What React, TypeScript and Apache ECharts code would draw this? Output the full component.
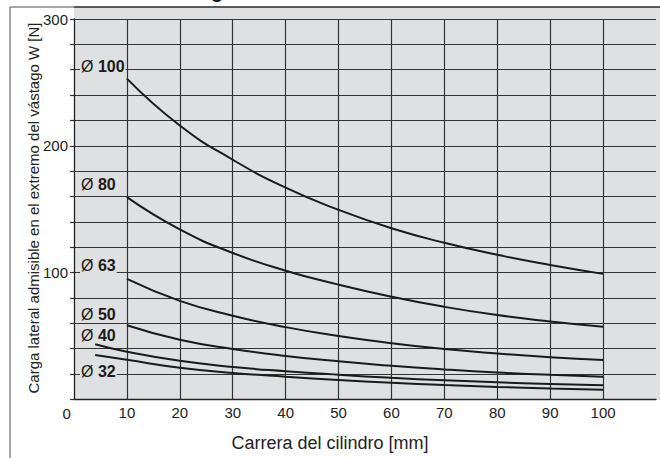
import React, { useEffect, useRef } from "react";
import * as echarts from "echarts";

// Stroke positions (mm)
const strokeX = [10, 20, 30, 40, 50, 60, 70, 80, 90, 100];
const strokeXLong = [4, 10, 20, 30, 40, 50, 60, 70, 80, 90, 100];

// Allowable lateral load W [N] for each bore
const bore100 = [253, 216, 189, 167, 149.5, 135, 123.5, 114, 106, 99];
const bore80 = [159.5, 134, 115.5, 101.5, 90.5, 81, 73, 66.5, 61.5, 57.3];
const bore63 = [95, 77.7, 66, 57, 50, 44.3, 39.7, 36.2, 33.3, 31];
const bore50 = [58.5, 47, 39.8, 34.3, 30, 26.5, 23.6, 21.2, 19.4, 17.9];
const bore40 = [43.5, 37.6, 30.4, 25.6, 22.2, 19.4, 17, 15.1, 13.5, 12.2, 11.2];
const bore32 = [35, 31.2, 25, 20.9, 17.9, 15.3, 13.1, 11.3, 9.8, 8.6, 7.6];

const boreNames = ["100", "80", "63", "50", "40", "32"];
const yTickLabels = [100, 200, 300];

const xTitle = "Carrera del cilindro [mm]";
const yTitle = "Carga lateral admisible en el extremo del vástago W [N]";

const FONT = "'Liberation Sans', Arial, Helvetica, sans-serif";
const BG = "#dfe0e2";
const GRIDC = "#333333";

export default function App() {
  const ref = useRef<HTMLDivElement>(null);

  useEffect(() => {
    if (!ref.current) return;
    const chart = echarts.init(ref.current, undefined, { renderer: "svg" });

    const seriesData = [
      { x: strokeX, y: bore100 },
      { x: strokeX, y: bore80 },
      { x: strokeX, y: bore63 },
      { x: strokeX, y: bore50 },
      { x: strokeXLong, y: bore40 },
      { x: strokeXLong, y: bore32 },
    ];

    const labelY = [66, 184, 265, 314, 335, 371];

    chart.setOption({
      animation: false,
      grid: { left: 74, top: 19, right: 4, bottom: 58.6, show: false },
      xAxis: {
        type: "value",
        min: 0,
        max: 110,
        interval: 10,
        axisLine: { show: true, lineStyle: { color: "#222", width: 1.3 } },
        axisTick: { show: false },
        axisLabel: {
          margin: 6,
          fontSize: 15,
          fontFamily: FONT,
          color: "#222",
          formatter: (v: number) => (v === 0 || v > 100 ? "" : String(v)),
        },
        splitLine: {
          show: true,
          showMinLine: false,
          showMaxLine: false,
          lineStyle: { color: GRIDC, width: 1.2 },
        },
      },
      yAxis: {
        type: "value",
        min: 0,
        max: 300,
        interval: 20,
        axisLine: { show: true, lineStyle: { color: "#222", width: 1.3 } },
        axisTick: { show: true, length: 4, lineStyle: { color: GRIDC, width: 1.2 } },
        axisLabel: {
          margin: 6,
          fontSize: 15,
          fontFamily: FONT,
          color: "#222",
          formatter: (v: number) => (yTickLabels.includes(v) ? String(v) : ""),
        },
        splitLine: {
          show: true,
          showMinLine: false,
          showMaxLine: true,
          lineStyle: { color: GRIDC, width: 1.2 },
        },
      },
      series: seriesData.map((s, i) => ({
        type: "line",
        name: "Ø " + boreNames[i],
        data: s.x.map((x, j) => [x, s.y[j]]),
        smooth: 0.5,
        symbol: "none",
        lineStyle: { color: "#1a1a1a", width: 2 },
        z: 5,
      })),
      graphic: [
        {
          type: "rect",
          z: -100,
          shape: { x: 74, y: 7, width: 586, height: 393 },
          style: { fill: BG },
        },
        {
          type: "line",
          z: 10,
          shape: { x1: 10, y1: 7, x2: 74, y2: 7 },
          style: { stroke: "#888", lineWidth: 1.5 },
        },
        {
          type: "line",
          z: 10,
          shape: { x1: 74, y1: 7, x2: 660, y2: 7 },
          style: { stroke: "#2a2a2a", lineWidth: 1.3 },
        },
        {
          type: "line",
          z: 10,
          shape: { x1: 10, y1: 7, x2: 10, y2: 458 },
          style: { stroke: "#888", lineWidth: 1.5 },
        },
        {
          type: "text",
          z: 10,
          x: 217,
          y: -9,
          style: {
            text: "g",
            font: `bold 20px ${FONT}`,
            fill: "#111",
            align: "center",
            verticalAlign: "middle",
          },
        },
        ...boreNames.map((n, i) => ({
          type: "text",
          z: 20,
          x: 80,
          y: labelY[i],
          style: {
            text: "Ø {b|" + n + "}",
            fontSize: 16,
            fontFamily: FONT,
            fill: "#1a1a1a",
            align: "left",
            verticalAlign: "middle",
            backgroundColor: BG,
            padding: [0, 1, 0, 1],
            rich: {
              b: { fontSize: 16, fontFamily: FONT, fontWeight: "bold", fill: "#1a1a1a" },
            },
          },
        })),
        {
          type: "text",
          x: 66.7,
          y: 413,
          style: {
            text: "0",
            fontSize: 15,
            fontFamily: FONT,
            fill: "#222",
            align: "center",
            verticalAlign: "middle",
          },
        },
        {
          type: "text",
          x: 330,
          y: 443,
          style: {
            text: xTitle,
            fontSize: 18,
            fontFamily: FONT,
            fill: "#222",
            align: "center",
            verticalAlign: "middle",
          },
        },
        {
          type: "text",
          x: 33,
          y: 208,
          rotation: Math.PI / 2,
          style: {
            text: yTitle,
            fontSize: 15,
            fontFamily: FONT,
            fill: "#222",
            align: "center",
            verticalAlign: "middle",
          },
        },
      ],
    });

    return () => chart.dispose();
  }, []);

  return (
    <div
      ref={ref}
      style={{ position: "absolute", left: 0, top: 0, width: 660, height: 458, background: "#fff" }}
    />
  );
}
